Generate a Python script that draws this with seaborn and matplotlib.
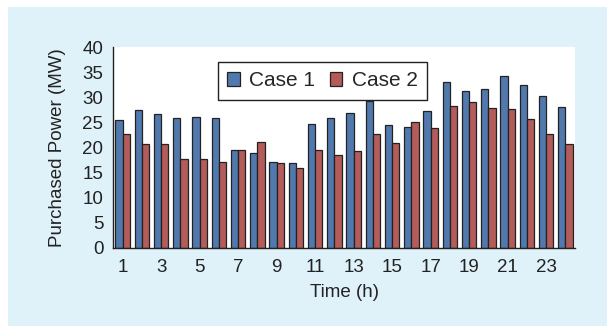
import matplotlib
matplotlib.use("Agg")
import matplotlib.pyplot as plt
import seaborn as sns
import pandas as pd
from matplotlib.patches import Rectangle

hours = list(range(1, 25))
case1 = [25.5, 27.4, 26.7, 25.9, 26.0, 25.9, 19.6, 18.9, 17.2, 17.0, 24.7, 25.9,
         26.9, 29.3, 24.5, 24.1, 27.2, 33.1, 31.2, 31.6, 34.2, 32.5, 30.3, 28.1]
case2 = [22.6, 20.7, 20.7, 17.8, 17.8, 17.2, 19.6, 21.0, 17.0, 16.0, 19.6, 18.6,
         19.4, 22.6, 20.8, 25.0, 23.9, 28.2, 29.1, 27.9, 27.7, 25.7, 22.7, 20.7]
series_names = ["Case 1", "Case 2"]
colors = ["#4277bd", "#c24e4b"]
xtick_labels = [str(h) for h in range(1, 25, 2)]
yticks = list(range(0, 45, 5))

df = pd.DataFrame({
    "Time": hours * 2,
    "Power": case1 + case2,
    "Case": [series_names[0]] * 24 + [series_names[1]] * 24,
})

sns.set_style("white")
plt.rcParams["font.family"] = ["Liberation Sans", "DejaVu Sans"]

FS = 13.5
TXT = "#222222"

fig = plt.figure(figsize=(6.07, 3.26), dpi=100)
fig.patch.set_facecolor("white")
fig.patches.append(Rectangle((8 / 607, 0), 1 - 8 / 607, 1 - 7 / 326,
                             transform=fig.transFigure, facecolor="#dff2fa",
                             edgecolor="none", zorder=-10))

ax = fig.add_axes([113 / 607, 1 - 248 / 326, (575 - 113) / 607, (248 - 47) / 326])
ax.set_facecolor("white")

sns.barplot(data=df, x="Time", y="Power", hue="Case", palette=colors,
            width=0.75, gap=0, edgecolor="#222222", linewidth=0.9,
            ax=ax, legend=True)

ax.set_ylim(0, 40)
ax.set_xlim(-0.5, 23.5)
ax.set_yticks(yticks)
ax.set_yticklabels([str(v) for v in yticks], fontsize=FS, color=TXT)
ax.set_xticks(range(0, 24, 2))
ax.set_xticklabels(xtick_labels, fontsize=FS, color=TXT)
ax.tick_params(axis="y", length=0, pad=7)
ax.tick_params(axis="x", length=0, pad=8)
ax.set_xlabel("Time (h)", fontsize=FS, color=TXT, labelpad=6)
ax.set_ylabel("Purchased Power (MW)", fontsize=FS, color=TXT, labelpad=12)

for s in ["top", "right"]:
    ax.spines[s].set_visible(False)
for s in ["left", "bottom"]:
    ax.spines[s].set_color("#222222")
    ax.spines[s].set_linewidth(1.0)

leg = ax.legend(loc="upper left", bbox_to_anchor=((218 - 113) / 462, 1 - (62 - 47) / 201),
                ncol=2, fontsize=15, frameon=True, fancybox=False,
                handlelength=0.6, handleheight=0.6, handletextpad=0.45,
                columnspacing=0.7, borderpad=0.45, borderaxespad=0)
leg.get_frame().set_edgecolor("#222222")
leg.get_frame().set_linewidth(1.0)
leg.get_frame().set_facecolor("white")
leg.get_frame().set_alpha(1)

fig.savefig("out.png", dpi=100)
